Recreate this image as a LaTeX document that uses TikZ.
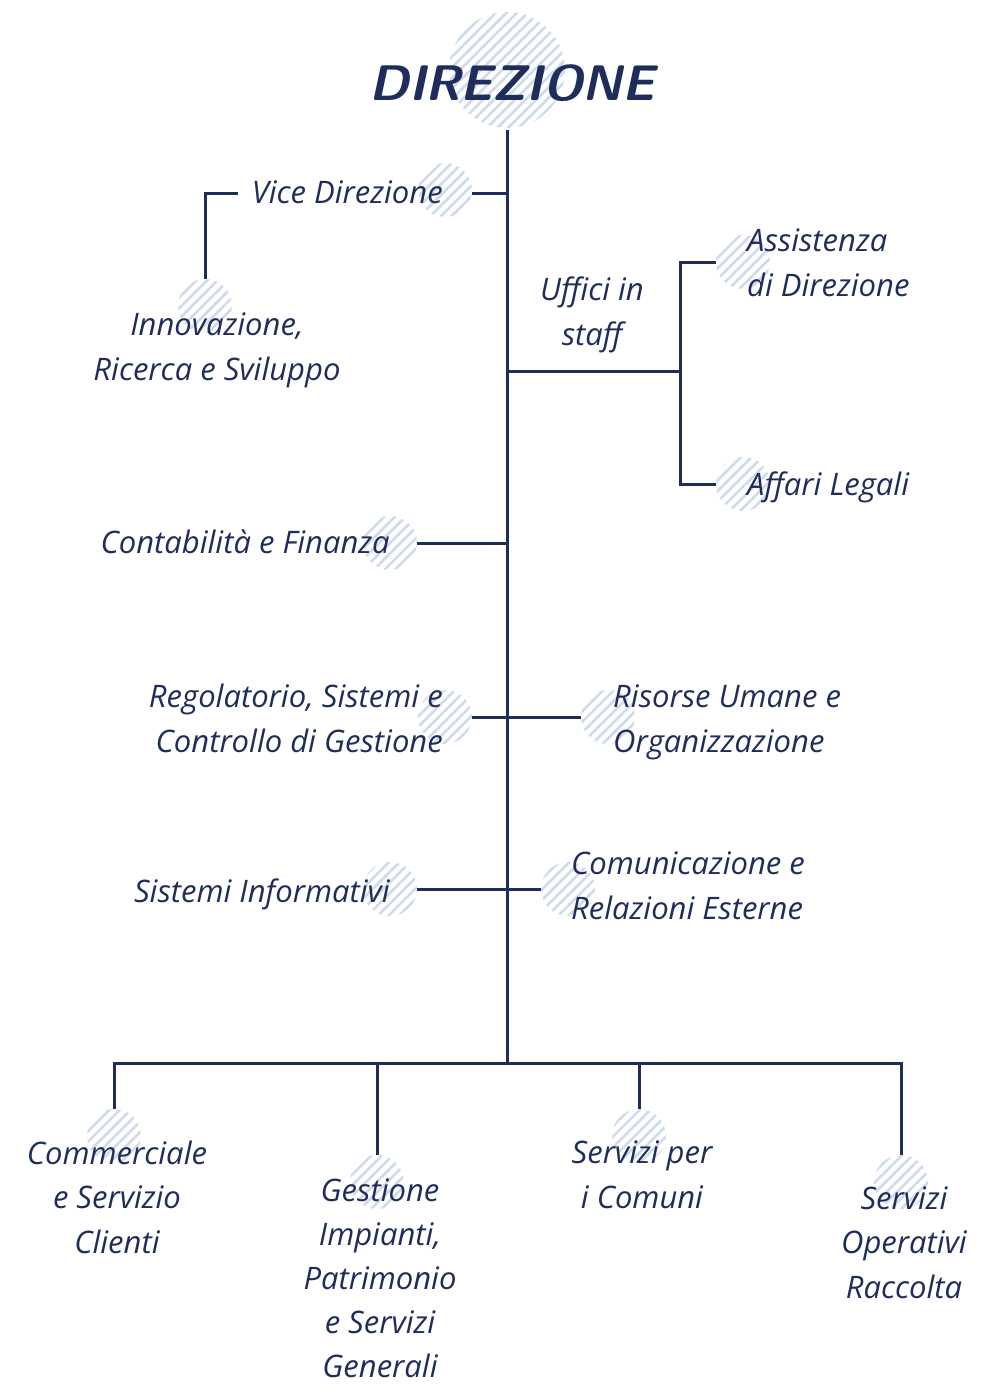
\documentclass[tikz,border=0pt]{standalone}
\usepackage{fontspec}
\newfontfamily\hand{Open Sans}
\usetikzlibrary{patterns.meta}
\definecolor{navy}{HTML}{1F2D5A}
\definecolor{hatch}{HTML}{CFDAEA}
\begin{document}
\begin{tikzpicture}[x=1pt,y=-1pt,
  conn/.style={draw=navy,line width=3pt},
  hcirc/.style={circle,inner sep=0pt,minimum size=#1,pattern={Lines[angle=45,distance=7.5pt,line width=2.6pt]},pattern color=hatch},
  hcirc/.default=54pt,
  lbl/.style={inner sep=0pt,text=navy,font=\fontsize{31}{44.5}\selectfont\hand\itshape},
  lblL/.style={lbl,align=left,anchor=base west},
  lblR/.style={lbl,align=right,anchor=base east},
  lblC/.style={lbl,align=center,anchor=base}]
\useasboundingbox (0,0) rectangle (984,1389);
% hatched circles
\node[hcirc=116pt] (cDir) at (507,70) {};
\node[hcirc] (cVice) at (445,190) {};
\node[hcirc] (cInn) at (205,306) {};
\node[hcirc] (cAss) at (743,262) {};
\node[hcirc] (cAff) at (743,484) {};
\node[hcirc] (cCon) at (390,543) {};
\node[hcirc] (cReg) at (445,717) {};
\node[hcirc] (cRis) at (608,717) {};
\node[hcirc] (cSis) at (390,889) {};
\node[hcirc] (cCom) at (568,889) {};
\node[hcirc] (cComm) at (114,1136) {};
\node[hcirc] (cGes) at (377,1182) {};
\node[hcirc] (cSer) at (639,1136) {};
\node[hcirc] (cOpe) at (901,1182) {};
% title
\node[inner sep=0pt,text=navy,anchor=base,font=\fontsize{50}{50}\selectfont\sffamily\bfseries\slshape] (dir) at (512,100) {DIREZIONE};
% labels (base anchor = baseline of the last line)
\node[lblR] (vice) at (443,203) {Vice Direzione};
\node[lblC] (inn) at (217,380) {Innovazione,\\Ricerca e Sviluppo};
\node[lblC] (uff) at (592,345) {Uffici in\\staff};
\node[lblL] (ass) at (747,296) {Assistenza\\di Direzione};
\node[lblL] (aff) at (747,495) {Affari Legali};
\node[lblR] (con) at (390,553) {Contabilit\`a e Finanza};
\node[lblR] (reg) at (443,752) {Regolatorio, Sistemi e\\Controllo di Gestione};
\node[lblL] (ris) at (613,752) {Risorse Umane e\\Organizzazione};
\node[lblR] (sis) at (390,902) {Sistemi Informativi};
\node[lblL] (com) at (571,919) {Comunicazione e\\Relazioni Esterne};
\node[lblC] (comm) at (117,1253) {Commerciale\\e Servizio\\Clienti};
\node[lblC,font=\fontsize{31}{44}\selectfont\hand\itshape] (ges) at (380,1377) {Gestione\\Impianti,\\Patrimonio\\e Servizi\\Generali};
\node[lblC] (ser) at (642,1208) {Servizi per\\i Comuni};
\node[lblC] (ope) at (904,1298) {Servizi\\Operativi\\Raccolta};
% junction coordinates
\coordinate (top) at (507,130);
\coordinate (jVice) at (507,193);
\coordinate (jStaff) at (507,371);
\coordinate (jCon) at (507,543);
\coordinate (jReg) at (507,717);
\coordinate (jSis) at (507,889);
\coordinate (bot) at (507,1063);
\coordinate (sx) at (680,371);
% trunk
\draw[conn] (top) -- (bot);
% vice direzione
\draw[conn] (jVice) -- (cVice.east |- jVice);
\draw[conn] (238,193) -| (cInn.north);
% staff
\draw[conn] (jStaff) -- (sx);
\draw[conn] (cAss.west) -| (sx) |- (cAff.west);
% side branches
\draw[conn] (jCon) -- (cCon.east);
\draw[conn] (cReg.east) -- (cRis.west);
\draw[conn] (cSis.east) -- (cCom.west);
% bottom
\draw[conn] (cComm.north) |- (bot) -| (cOpe.north);
\draw[conn] (cGes.north) -- (cGes.north |- bot);
\draw[conn] (cSer.north) -- (cSer.north |- bot);
\end{tikzpicture}
\end{document}
